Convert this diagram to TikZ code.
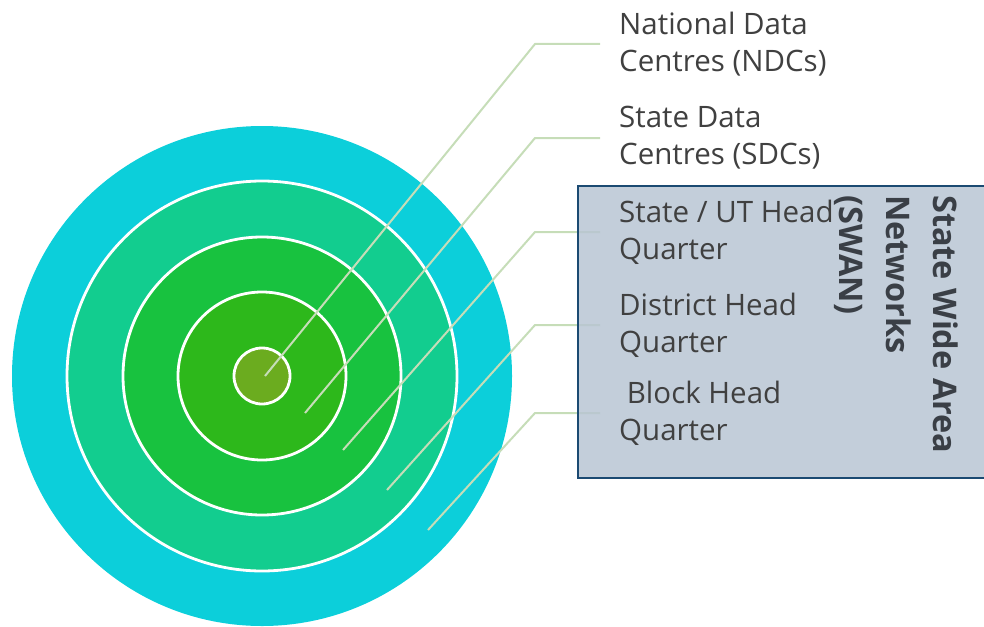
\documentclass[tikz,border=0pt]{standalone}
\usepackage{fontspec}
\setmainfont{Open Sans}
\begin{document}
\begin{tikzpicture}[x=1pt,y=-1pt,
  ring/.style={draw=white, line width=2.8pt},
  leader/.style={draw=leadc, line width=2pt},
  lbl/.style={anchor=west, align=left, inner xsep=19pt, inner ysep=0pt, text=txtc, font=\fontsize{29.5}{37}\selectfont},
  swanbox/.style={draw=boxline, fill=boxfill, fill opacity=0.85, line width=2pt},
  swantext/.style={rotate=-90, anchor=north west, align=left, inner sep=0pt, text=swanc, font=\fontsize{32.5}{47}\selectfont\bfseries}]
\definecolor{c1}{HTML}{0CCFDA}
\definecolor{c2}{HTML}{12CD8F}
\definecolor{c3}{HTML}{18C23F}
\definecolor{c4}{HTML}{2DB81B}
\definecolor{c5}{HTML}{6BAC1F}
\definecolor{leadc}{HTML}{C6DDB8}
\definecolor{txtc}{HTML}{404040}
\definecolor{swanc}{HTML}{3A3F46}
\definecolor{boxfill}{HTML}{B8C5D3}
\definecolor{boxline}{HTML}{1B4A72}
\useasboundingbox (0,0) rectangle (984,626);
\coordinate (c) at (262,376);
\fill[c1] (c) circle (250);
\filldraw[ring, fill=c2] (c) circle (195);
\filldraw[ring, fill=c3] (c) circle (139);
\filldraw[ring, fill=c4] (c) circle (84);
\filldraw[ring, fill=c5] (c) circle (28);
% labels
\node[lbl] (ndc) at (600,44) {National Data\\Centres (NDCs)};
\node[lbl] (sdc) at (600,138) {State Data\\Centres (SDCs)};
\coordinate (p1) at (265,376);
\coordinate (e1) at (535,44);
\coordinate (p2) at (305,413);
\coordinate (e2) at (535,138);
\coordinate (p3) at (343,450);
\coordinate (e3) at (535,232);
\coordinate (p4) at (387,490);
\coordinate (e4) at (535,325);
\coordinate (p5) at (428,530);
\coordinate (e5) at (535,413);
\coordinate (t3) at (600,232);
\coordinate (t4) at (600,325);
\coordinate (t5) at (600,413);
\draw[leader] (p1) -- (e1) -- (ndc.west);
\draw[leader] (p2) -- (e2) -- (sdc.west);
\draw[leader] (p3) -- (e3) -- (t3);
\draw[leader] (p4) -- (e4) -- (t4);
\draw[leader] (p5) -- (e5) -- (t5);
\node[swanbox, minimum width=420, minimum height=292, anchor=north west, inner sep=0pt] (box) at (577,185) {};
\node[lbl] (ut) at (t3) {State / UT Head\\Quarter};
\node[lbl] (dist) at (t4) {District Head\\Quarter};
\node[lbl] (blk) at (t5) {\ Block Head\\Quarter};
\node[swantext] (swan) at (958,195) {State Wide Area\\Networks\\(SWAN)};
\end{tikzpicture}
\end{document}
